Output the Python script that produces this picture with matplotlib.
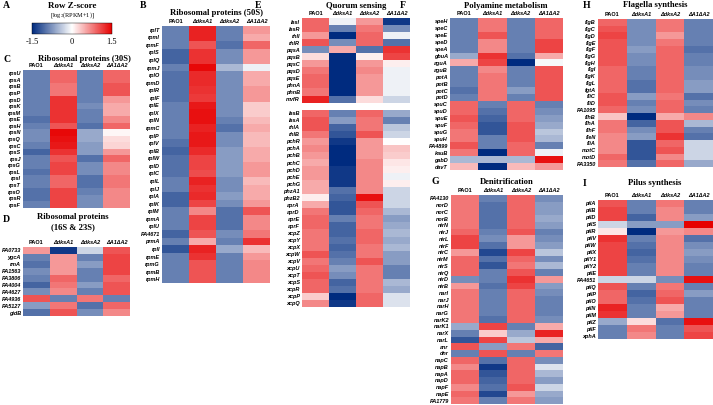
import numpy as np
import matplotlib.pyplot as plt
from matplotlib.colors import LinearSegmentedColormap, Normalize
from matplotlib.cm import ScalarMappable

plt.rcParams['font.family'] = ['Liberation Sans', 'DejaVu Sans']
plt.rcParams['mathtext.fontset'] = 'stix'

W, H = 713, 405
SERIF = ['Liberation Serif', 'DejaVu Serif']

strains = ["PAO1", "ΔdksA1", "ΔdksA2", "ΔA1ΔA2"]

# ---------------------------------------------------------------
# DATA (row z-scores, columns = strains)
# ---------------------------------------------------------------
c_genes = ["rpsU", "rpsA", "rpsB", "rpsP", "rpsD", "rpsK", "rpsM", "rpsE", "rpsH", "rpsN",
           "rpsQ", "rpsC", "rpsS", "rpsJ", "rpsG", "rpsL", "rpsI", "rpsT", "rpsO", "rpsR", "rpsF"]
c_vals = [[-0.9, 0.9, -0.9, 0.9], [-0.9, 0.9, -0.9, 0.9], [-0.9, 0.8, -0.9, 1.0],
          [-0.9, 0.8, -0.9, 1.0], [-0.9, 1.2, -0.9, 0.6], [-0.9, 1.2, -0.8, 0.5],
          [-0.9, 1.2, -0.9, 0.5], [-1.0, 1.2, -0.9, 0.7], [-0.9, 1.0, -1.0, 0.9],
          [-0.8, 1.45, -0.6, 0.05], [-0.8, 1.4, -0.6, 0.2], [-0.9, 1.35, -0.7, 0.25],
          [-1.1, 1.2, -0.7, 0.6], [-0.9, 1.0, -1.0, 0.9], [-0.9, 1.1, -0.8, 0.7],
          [-1.0, 1.1, -0.8, 0.7], [-0.9, 0.9, -1.0, 0.8], [-0.9, 0.9, -1.0, 0.8],
          [-1.0, 1.1, -0.9, 0.7], [-1.0, 1.1, -0.8, 0.7], [-0.9, 1.1, -0.8, 0.7]]

d_genes = ["PA0733", "ygcA", "rmA", "PA1563", "PA3806", "PA4004", "PA4627", "PA4936", "PA5127", "gidB"]
d_vals = [[0.6, -1.4, -0.3, 1.0], [-0.9, 0.6, -0.9, 1.1], [-1.0, 0.6, -0.7, 1.1],
          [-0.8, 0.6, -0.9, 1.1], [-0.9, 0.9, -0.9, 0.9], [-1.1, 0.8, -0.7, 1.0],
          [-0.8, 0.7, -0.9, 1.0], [1.0, -0.9, 0.8, -0.9], [-0.7, 0.8, -1.0, 0.9],
          [-1.0, 1.0, -0.8, 0.7]]

b_genes = ["rplT", "rpmI", "rpmF", "rplS", "rplQ", "rpmJ", "rplO", "rpmD", "rplR", "rplF",
           "rplE", "rplX", "rplN", "rpmC", "rplP", "rplV", "rplB", "rplW", "rplD", "rplC",
           "rplL", "rplJ", "rplA", "rplK", "rplM", "rpmA", "rplU", "PA4671", "prmA", "rplI",
           "rpmE", "rpmG", "rpmB", "rpmH"]
b_vals = [[-0.9, 1.3, -0.9, 0.6], [-0.9, 1.3, -0.9, 0.5], [-0.9, 1.0, -1.0, 0.9],
          [-1.1, 1.2, -0.8, 0.6], [-1.1, 1.2, -0.8, 0.6], [-0.9, 1.45, -0.5, -0.1],
          [-1.0, 1.25, -0.8, 0.5], [-1.0, 1.25, -0.8, 0.5], [-1.0, 1.2, -0.8, 0.6],
          [-1.0, 1.15, -0.8, 0.6], [-0.9, 1.35, -0.8, 0.3], [-0.9, 1.4, -0.8, 0.3],
          [-0.9, 1.4, -0.9, 0.4], [-0.9, 1.3, -1.0, 0.5], [-0.9, 1.35, -0.8, 0.4],
          [-1.0, 1.35, -0.8, 0.4], [-1.1, 1.25, -0.7, 0.5], [-1.0, 1.1, -0.7, 0.5],
          [-1.0, 1.1, -0.7, 0.6], [-1.0, 1.05, -0.7, 0.6], [-0.9, 1.3, -0.8, 0.4],
          [-0.9, 1.2, -0.8, 0.5], [-1.1, 1.25, -0.7, 0.5], [-1.1, 1.1, -0.8, 0.6],
          [-0.9, 0.7, -1.0, 1.0], [-0.9, 1.1, -1.0, 0.7], [-0.9, 1.1, -1.0, 0.7],
          [-1.1, 1.0, -0.8, 0.8], [-0.9, 0.5, -0.9, 1.2], [-1.2, 1.3, -0.6, 0.4],
          [-0.9, 1.2, -0.9, 0.6], [-0.9, 1.0, -0.9, 0.7], [-0.9, 1.0, -0.9, 0.7],
          [-0.9, 1.0, -0.9, 0.7]]

e_genes = ["lasI", "lasR", "rhlI", "rhlR", "pqsA", "pqsB", "pqsC", "pqsD", "pqsE", "phnA",
           "phnB", "mvfR", "",
           "lasB", "lasA", "rhlA", "rhlB", "pchR", "pchA", "pchB", "pchC", "pchD", "pchE",
           "pchG", "phzA1", "phzB2", "aprA", "aprD", "aprE", "aprF", "xcpZ", "xcpY", "xcpX",
           "xcpW", "xcpV", "xcpU", "xcpT", "xcpS", "xcpR", "xcpP", "xcpQ"]
e_vals = [[0.9, -0.1, 0.6, -1.4], [0.9, -0.9, 0.8, -0.8], [0.6, -1.5, 0.9, -0.1],
          [1.0, -0.8, 0.9, -1.0], [-0.8, 0.5, -1.0, 1.2], [0.2, -1.5, 0.1, 1.1],
          [0.6, -1.5, 0.6, 0.1], [0.8, -1.5, 0.7, -0.1], [0.9, -1.5, 0.6, -0.1],
          [0.9, -1.5, 0.6, -0.1], [0.8, -1.5, 0.6, -0.1], [1.3, -1.0, 0.2, -0.3],
          [np.nan] * 4,
          [0.9, -0.9, 0.9, -0.6], [1.0, -0.7, 0.8, -0.9], [1.0, -1.1, 0.8, -0.4],
          [0.8, -1.2, 1.0, -0.3], [0.6, -1.4, 0.6, 0.0], [0.7, -1.5, 0.6, 0.35],
          [0.6, -1.5, 0.6, 0.3], [0.5, -1.5, 0.7, 0.15], [0.6, -1.4, 0.7, 0.1],
          [0.6, -1.4, 0.7, -0.1], [0.5, -1.4, 0.7, 0.1], [0.5, -1.0, 0.7, -0.3],
          [0.1, -1.1, 1.4, -0.3], [0.5, -1.2, 1.0, -0.3], [0.8, -1.2, 0.9, -0.5],
          [0.9, -0.9, 0.8, -0.7], [0.9, -1.1, 0.8, -0.6], [0.8, -1.1, 0.9, -0.5],
          [0.8, -1.0, 0.9, -0.6], [0.8, -1.1, 0.8, -0.5], [1.0, -1.0, 0.8, -0.7],
          [0.8, -0.9, 1.0, -0.7], [0.9, -0.7, 0.8, -0.9], [1.0, -0.8, 0.8, -0.9],
          [0.9, -1.1, 0.8, -0.5], [0.9, -1.0, 0.8, -0.6], [0.3, -1.5, 0.9, -0.2],
          [0.7, -1.4, 0.9, -0.2]]

f_genes = ["speH", "speC", "speE", "speD", "speA", "gbuA", "aguA", "aguB", "potA", "potB",
           "potC", "potD", "spuC", "spuD", "spuE", "spuF", "spuG", "spuH", "PA4899", "kauB",
           "gabD", "davT"]
f_vals = [[-0.9, 0.8, -0.9, 0.9], [-0.9, 0.8, -0.9, 0.9], [-0.9, 1.0, -0.9, 0.9],
          [-0.9, 0.7, -0.9, 1.1], [-0.9, 0.7, -0.9, 1.1], [-0.6, 1.2, -1.0, 0.5],
          [0.5, 1.1, -1.5, -0.05], [-0.9, 0.7, -0.9, 1.0], [-0.9, 0.8, -0.9, 1.0],
          [-0.9, 0.8, -0.9, 1.0], [-1.0, 0.8, -0.7, 1.0], [-0.9, 0.8, -0.9, 1.0],
          [0.9, -0.9, 0.9, -0.9], [0.9, -1.0, 0.9, -0.8], [1.0, -1.1, 0.9, -0.7],
          [0.9, -1.2, 1.0, -0.6], [0.8, -1.2, 1.0, -0.4], [0.8, -0.9, 1.0, -0.5],
          [1.0, -0.9, 0.9, -0.9], [0.8, -1.5, 0.9, -0.1], [-0.5, -0.5, -0.5, 1.4],
          [0.4, -1.5, 0.4, 0.6]]

g_genes = ["PA4130", "norD", "norC", "norB", "nirN", "nirJ", "nirL", "nirF", "nirC", "nirM",
           "nirS", "nirQ", "nirD", "nirB", "narI", "narJ", "narH", "narG", "narK2", "narK1",
           "narX", "narL", "anr", "dnr", "napC", "napB", "napA", "napD", "napF", "napE", "PA1779"]
g_vals = [[0.8, -0.9, 0.9, -0.8], [0.8, -1.0, 0.9, -0.7], [0.8, -1.0, 0.9, -0.7],
          [0.8, -1.0, 0.9, -0.6], [0.8, -1.0, 0.9, -0.7], [0.9, -0.9, 1.0, -0.9],
          [1.1, -0.8, 0.6, -0.8], [1.1, -1.0, 0.6, -0.7], [0.6, -1.3, 1.1, -0.4],
          [0.9, -1.0, 0.9, -0.8], [0.9, -1.2, 0.8, -0.5], [0.9, -0.9, 1.0, -0.9],
          [-0.8, -0.9, 1.2, 0.6], [0.6, -1.0, 1.1, -0.7], [0.8, -0.9, 0.9, -0.8],
          [0.8, -0.9, 0.9, -0.9], [0.8, -0.9, 0.9, -0.9], [0.8, -0.9, 0.9, -0.9],
          [0.8, -1.0, 0.9, -0.8], [-0.6, 1.1, -0.9, 0.5], [-0.9, 0.3, -0.6, 1.3],
          [-1.2, 1.1, -0.4, 0.5], [1.0, -0.7, 0.8, -1.1], [-0.9, 1.0, -0.9, 0.8],
          [0.9, -1.0, 0.9, -0.8], [0.7, -1.4, 0.9, -0.2], [0.9, -1.2, 0.9, -0.5],
          [0.9, -1.1, 0.9, -0.7], [0.7, -1.0, 1.0, -0.3], [0.9, -1.3, 0.6, -0.6],
          [0.8, -0.9, 0.8, -0.7]]

h_genes = ["flgB", "flgC", "flgD", "flgE", "flgF", "flgG", "flgH", "flgI", "flgK", "flgL",
           "fgtA", "fliC", "fliD", "PA1095", "flhB", "flhA", "flhF", "fleN", "fliA", "motC",
           "motD", "PA3350"]
h_vals = [[0.9, -0.8, 0.8, -0.9], [1.0, -0.8, 0.8, -0.9], [1.1, -0.8, 0.6, -0.9],
          [1.0, -0.8, 0.8, -0.9], [1.0, -0.7, 0.9, -1.0], [1.0, -0.8, 0.9, -0.9],
          [1.0, -0.8, 0.9, -0.9], [0.9, -0.9, 0.9, -0.8], [0.9, -0.9, 0.9, -0.8],
          [0.9, -1.0, 0.9, -0.7], [0.9, -1.0, 0.9, -0.7], [1.0, -0.7, 0.8, -1.0],
          [1.0, -0.9, 0.9, -0.8], [0.9, -0.8, 0.9, -0.9], [0.35, -1.5, 0.5, 0.7],
          [0.8, -1.1, 1.0, -0.5], [0.8, -0.8, 1.0, -0.9], [0.7, -0.7, 1.2, -1.0],
          [0.7, -1.2, 0.9, -0.3], [0.7, -1.2, 1.0, -0.3], [0.9, -1.2, 0.7, -0.3],
          [0.8, -1.0, 0.9, -0.6]]

i_genes = ["pilA", "pilB", "pilD", "pilS", "pilR", "pilV", "pilW", "pilX", "pilY1", "pilY2",
           "pilE", "PA4651", "pilQ", "pilP", "pilO", "pilN", "pilM", "pilZ", "pilF", "xphA"]
i_vals = [[1.0, -0.9, 0.8, -0.9], [1.1, -0.9, 0.7, -0.9], [1.1, -1.1, 0.7, -0.7],
          [-0.3, -0.7, -0.7, 1.5], [0.15, -1.5, 0.6, 0.7], [1.2, -0.9, 0.7, -1.0],
          [1.1, -1.0, 0.7, -0.8], [1.1, -1.1, 0.7, -0.7], [1.1, -1.0, 0.7, -0.8],
          [1.1, -0.9, 0.7, -0.9], [1.1, -0.9, 0.7, -0.9], [-0.3, -0.3, -0.8, 1.4],
          [1.0, -0.9, 0.8, -0.9], [0.9, -1.1, 0.9, -0.7], [0.9, -1.0, 1.0, -0.9],
          [1.3, -0.9, 0.5, -0.9], [1.2, -0.9, 0.6, -0.9], [-0.6, 0.2, -1.0, 1.4],
          [-0.9, 0.8, -0.9, 1.0], [-0.9, 0.7, -0.9, 1.1]]

# ---------------------------------------------------------------
cmap = LinearSegmentedColormap.from_list("zrow", ["#002b7f", "#ffffff", "#e60000"])
cmap.set_bad("white")


def box(x0, y0, x1, y1):
    return [x0 / W, 1 - y1 / H, (x1 - x0) / W, (y1 - y0) / H]


def txt(fig, x, y, s, size, bold=True, family=SERIF, ha="center"):
    fig.text(x / W, 1 - y / H, s, ha=ha, va="center", fontsize=size,
             fontweight="bold" if bold else "normal", family=family)


def heat(fig, rect, genes, vals):
    ax = fig.add_axes(box(*rect))
    data = np.ma.masked_invalid(np.array(vals, dtype=float))
    ax.pcolormesh(data, cmap=cmap, vmin=-1.5, vmax=1.5)
    ax.set_xlim(0, 4)
    ax.set_ylim(len(genes), 0)
    ax.set_yticks(np.arange(len(genes)) + 0.5)
    ax.set_yticklabels(genes, fontsize=4, fontstyle="italic", fontweight="bold")
    ax.xaxis.tick_top()
    ax.set_xticks(np.arange(4) + 0.5)
    ax.set_xticklabels(strains, fontsize=4, fontstyle="italic", fontweight="bold")
    ax.get_xticklabels()[0].set_fontstyle("normal")
    ax.tick_params(length=0, pad=1.5)
    for s in ax.spines.values():
        s.set_visible(False)
    return ax


fig = plt.figure(figsize=(7.13, 4.05), dpi=100)

# A: colour key
txt(fig, 3, 6, "A", 7, ha="left")
txt(fig, 72, 6, "Row Z-score", 6.5)
txt(fig, 72, 15, "[log$_2$(RPKM+1)]", 4.5, bold=False)
cax = fig.add_axes(box(32, 23, 112, 34))
cb = fig.colorbar(ScalarMappable(Normalize(-1.5, 1.5), cmap), cax=cax,
                  orientation="horizontal", ticks=[-1.5, 0, 1.5])
cb.ax.set_xticklabels(["-1.5", "0", "1.5"], family=SERIF, fontsize=6)
cb.ax.tick_params(length=0, pad=3)
cb.outline.set_linewidth(0.3)

# C
txt(fig, 3, 59, "C", 7, ha="left")
txt(fig, 84, 59, "Ribosomal proteins (30S)", 6.2)
heat(fig, (23, 70, 130, 208), c_genes, c_vals)

# D
txt(fig, 3, 219, "D", 7, ha="left")
txt(fig, 73, 217, "Ribosomal proteins", 6.2)
txt(fig, 73, 227, "(16S & 23S)", 6.2)
heat(fig, (23, 247, 130, 316), d_genes, d_vals)

# B
txt(fig, 140, 5, "B", 7, ha="left")
txt(fig, 216, 13, "Ribosomal proteins (50S)", 6.2)
heat(fig, (162, 26, 270, 283), b_genes, b_vals)

# E
txt(fig, 255, 6, "E", 7, ha="left")
txt(fig, 356, 6, "Quorum sensing", 6.2)
heat(fig, (302, 18, 410, 307), e_genes, e_vals)

# F
txt(fig, 400, 6, "F", 7, ha="left")
txt(fig, 506, 6, "Polyamine metabolism", 6.2)
heat(fig, (450, 18, 563, 170), f_genes, f_vals)

# G
txt(fig, 432, 182, "G", 7, ha="left")
txt(fig, 507, 182, "Denitrification", 6.2)
heat(fig, (451, 195, 563, 404), g_genes, g_vals)

# H
txt(fig, 583, 5, "H", 7, ha="left")
txt(fig, 655, 5, "Flagella synthesis", 6.2)
heat(fig, (598, 19, 713, 167), h_genes, h_vals)

# I
txt(fig, 583, 183, "I", 7, ha="left")
txt(fig, 655, 183, "Pilus synthesis", 6.2)
heat(fig, (598, 200, 713, 339), i_genes, i_vals)

fig.savefig("out.png", dpi=100)
